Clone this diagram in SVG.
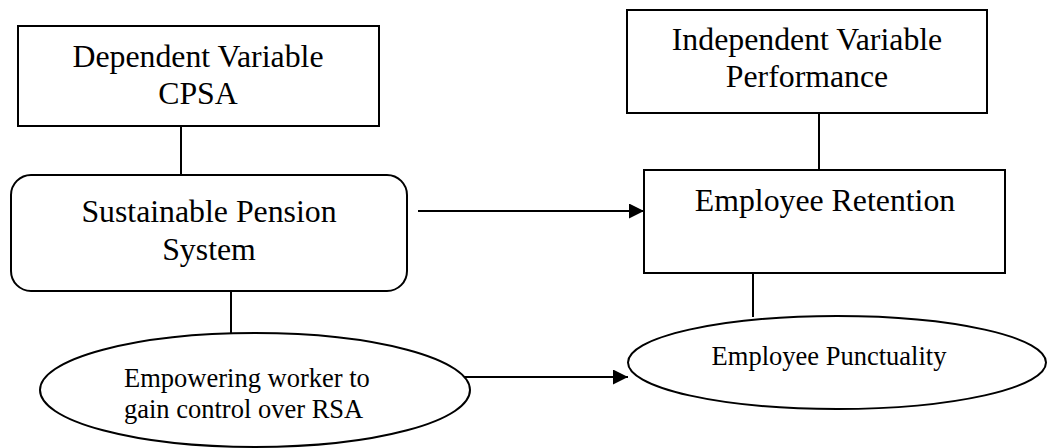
<svg xmlns="http://www.w3.org/2000/svg" width="1047" height="448" viewBox="0 0 1047 448">
  <style>
    .shape { fill: #ffffff; stroke: #000000; stroke-width: 2; }
    .link { fill: none; stroke: #000000; stroke-width: 2; }
    .big { font-family: "Liberation Serif", "Times New Roman", serif; font-size: 31.8px; fill: #000000; }
    .small { font-family: "Liberation Serif", "Times New Roman", serif; font-size: 26.5px; fill: #000000; }
  </style>
  <defs>
    <marker id="head" markerWidth="15" markerHeight="15" refX="15" refY="7.5" orient="auto" markerUnits="userSpaceOnUse">
      <path d="M0,0 L15,7.5 L0,15 Z" fill="#000000"/>
    </marker>
  </defs>
  <rect width="1047" height="448" fill="#ffffff"/>

  <g id="connectors">
    <line class="link" x1="181" y1="126" x2="181" y2="175"/>
    <line class="link" x1="231" y1="291" x2="231" y2="333"/>
    <line class="link" x1="819" y1="113" x2="819" y2="170"/>
    <line class="link" x1="753" y1="273" x2="753" y2="317"/>
    <line class="link" x1="418" y1="211" x2="644" y2="211" marker-end="url(#head)"/>
    <line class="link" x1="463" y1="377" x2="628" y2="377" marker-end="url(#head)"/>
  </g>

  <g id="dependent-variable">
    <rect class="shape" x="18" y="26" width="361" height="100"/>
    <text class="big" x="198" y="67" text-anchor="middle">Dependent Variable</text>
    <text class="big" x="198" y="104" text-anchor="middle">CPSA</text>
  </g>

  <g id="sustainable-pension">
    <rect class="shape" x="11" y="175" width="396" height="116" rx="20" ry="20"/>
    <text class="big" x="209" y="222" text-anchor="middle">Sustainable Pension</text>
    <text class="big" x="209" y="260" text-anchor="middle">System</text>
  </g>

  <g id="empowering-worker">
    <ellipse class="shape" cx="255" cy="390" rx="215" ry="57"/>
    <text class="small" x="124" y="387">Empowering worker to</text>
    <text class="small" x="124" y="418">gain control over RSA</text>
  </g>

  <g id="independent-variable">
    <rect class="shape" x="627" y="10" width="360" height="103"/>
    <text class="big" x="807" y="50" text-anchor="middle">Independent Variable</text>
    <text class="big" x="807" y="87" text-anchor="middle">Performance</text>
  </g>

  <g id="employee-retention">
    <rect class="shape" x="644" y="170" width="361" height="103"/>
    <text class="big" x="825" y="211" text-anchor="middle">Employee Retention</text>
  </g>

  <g id="employee-punctuality">
    <ellipse class="shape" cx="837" cy="362.5" rx="209" ry="46.5"/>
    <text class="small" x="829" y="365" text-anchor="middle">Employee Punctuality</text>
  </g>
</svg>
